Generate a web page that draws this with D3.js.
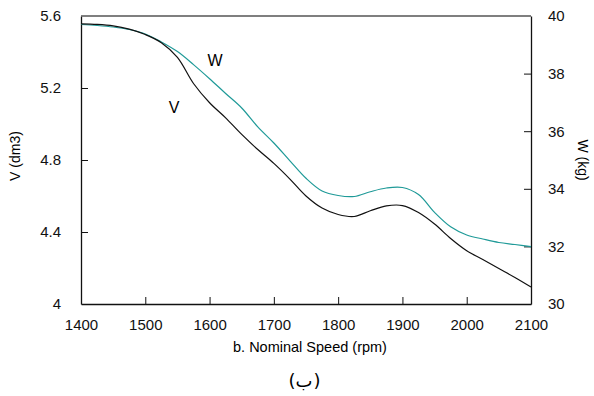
<!DOCTYPE html>
<html>
<head>
<meta charset="utf-8">
<script src="https://cdn.jsdelivr.net/npm/d3@7"></script>
<style>
    body { margin: 0; background: #fff; }
    svg { font-family: 'Liberation Sans', Arial, sans-serif; }
    .tick text { font-size: 15px; fill: #111; }
</style>
</head>
<body>
<div class="chart"></div>
<script>
// rpm
const speeds = [1400, 1425, 1450, 1475, 1500, 1525, 1550, 1575, 1600, 1625, 1650, 1675, 1700, 1725,
    1750, 1775, 1800, 1825, 1850, 1875, 1900, 1925, 1950, 1975, 2000, 2025, 2050, 2075, 2100]
// V (dm3), black curve
const volume = [5.556, 5.553, 5.545, 5.527, 5.497, 5.452, 5.370, 5.225, 5.118, 5.034, 4.942, 4.858, 4.781, 4.694,
    4.600, 4.533, 4.497, 4.486, 4.518, 4.545, 4.547, 4.508, 4.444, 4.364, 4.296, 4.247, 4.197, 4.147, 4.094]
// W (kg), teal curve
const weight = [39.705, 39.670, 39.618, 39.531, 39.375, 39.097, 38.764, 38.313, 37.823, 37.309, 36.806, 36.150, 35.590, 34.972,
    34.365, 33.924, 33.767, 33.733, 33.899, 34.028, 34.045, 33.800, 33.180, 32.680, 32.396, 32.257, 32.135, 32.066, 31.990]

const xTicks = [1400, 1500, 1600, 1700, 1800, 1900, 2000, 2100]
const vTicks = [4, 4.4, 4.8, 5.2, 5.6]
const wTicks = [30, 32, 34, 36, 38, 40]

const width = 594
const height = 396
const plotLeft = 81
const plotRight = 531
const plotTop = 16
const plotBottom = 304

const svg = d3.select('.chart')
    .append('svg')
    .attr('width', width)
    .attr('height', height)

const x = d3.scaleLinear().domain([1400, 2100]).range([plotLeft, plotRight])
const yV = d3.scaleLinear().domain([4, 5.6]).range([plotBottom, plotTop])
const yW = d3.scaleLinear().domain([30, 40]).range([plotBottom, plotTop])

// axes, ticks point inwards
const xAxis = d3.axisBottom(x).tickValues(xTicks).tickFormat(d3.format('d'))
    .tickSizeInner(-7).tickSizeOuter(0).tickPadding(15)
const gx = svg.append('g')
    .attr('transform', `translate(0, ${plotBottom})`)
    .call(xAxis)

const gl = svg.append('g')
    .attr('transform', `translate(${plotLeft}, 0)`)
    .call(d3.axisLeft(yV).tickValues(vTicks).tickFormat(d => d === 4 ? '4' : d3.format('.1f')(d))
        .tickSizeInner(-7).tickSizeOuter(0).tickPadding(20))

const gr = svg.append('g')
    .attr('transform', `translate(${plotRight}, 0)`)
    .call(d3.axisRight(yW).tickValues(wTicks)
        .tickSizeInner(-7).tickSizeOuter(0).tickPadding(17))

svg.selectAll('.domain').attr('stroke', '#111').attr('stroke-width', 1.3)
svg.selectAll('.tick line').attr('stroke', '#111').attr('stroke-width', 1)
// corner ticks are the frame itself
gx.selectAll('.tick line').filter(d => d === 1400 || d === 2100).remove()
gl.selectAll('.tick line').filter(d => d === 4 || d === 5.6).remove()
gr.selectAll('.tick line').filter(d => d === 30 || d === 40).remove()

// top frame line
svg.append('line')
    .attr('x1', plotLeft).attr('x2', plotRight)
    .attr('y1', plotTop).attr('y2', plotTop)
    .attr('stroke', '#555')
    .attr('stroke-width', 1.6)

const lineV = d3.line()
    .x((d, i) => x(speeds[i]))
    .y(d => yV(d))
    .curve(d3.curveCatmullRom.alpha(0.5))

const lineW = d3.line()
    .x((d, i) => x(speeds[i]))
    .y(d => yW(d))
    .curve(d3.curveCatmullRom.alpha(0.5))

svg.append('path')
    .attr('d', lineW(weight))
    .attr('fill', 'none')
    .attr('stroke', '#1f9a98')
    .attr('stroke-width', 1.2)

svg.append('path')
    .attr('d', lineV(volume))
    .attr('fill', 'none')
    .attr('stroke', '#111')
    .attr('stroke-width', 1.2)

// curve labels
svg.append('text')
    .attr('x', 215).attr('y', 66)
    .attr('text-anchor', 'middle')
    .style('font-size', '16px')
    .text('W')

svg.append('text')
    .attr('x', 174).attr('y', 113)
    .attr('text-anchor', 'middle')
    .style('font-size', '16px')
    .text('V')

// axis titles
svg.append('text')
    .attr('transform', 'translate(20, 156) rotate(-90)')
    .attr('text-anchor', 'middle')
    .style('font-size', '14px')
    .text('V (dm3)')

svg.append('text')
    .attr('transform', 'translate(578, 160) rotate(90)')
    .attr('text-anchor', 'middle')
    .style('font-size', '14px')
    .text('W (kg)')

svg.append('text')
    .attr('x', 310).attr('y', 352)
    .attr('text-anchor', 'middle')
    .style('font-size', '14.5px')
    .text('b. Nominal Speed (rpm)')

// (ب) drawn in three pieces so the bidi reordering does not shift it
const caption = svg.append('g')
    .style('font-family', "'DejaVu Sans', sans-serif")
    .style('font-size', '18px')
caption.append('text').attr('x', 292).attr('y', 387).attr('text-anchor', 'middle').text('(')
caption.append('text').attr('x', 304).attr('y', 387).attr('text-anchor', 'middle').text('ب')
caption.append('text').attr('x', 317).attr('y', 387).attr('text-anchor', 'middle').text(')')
</script>
</body>
</html>
